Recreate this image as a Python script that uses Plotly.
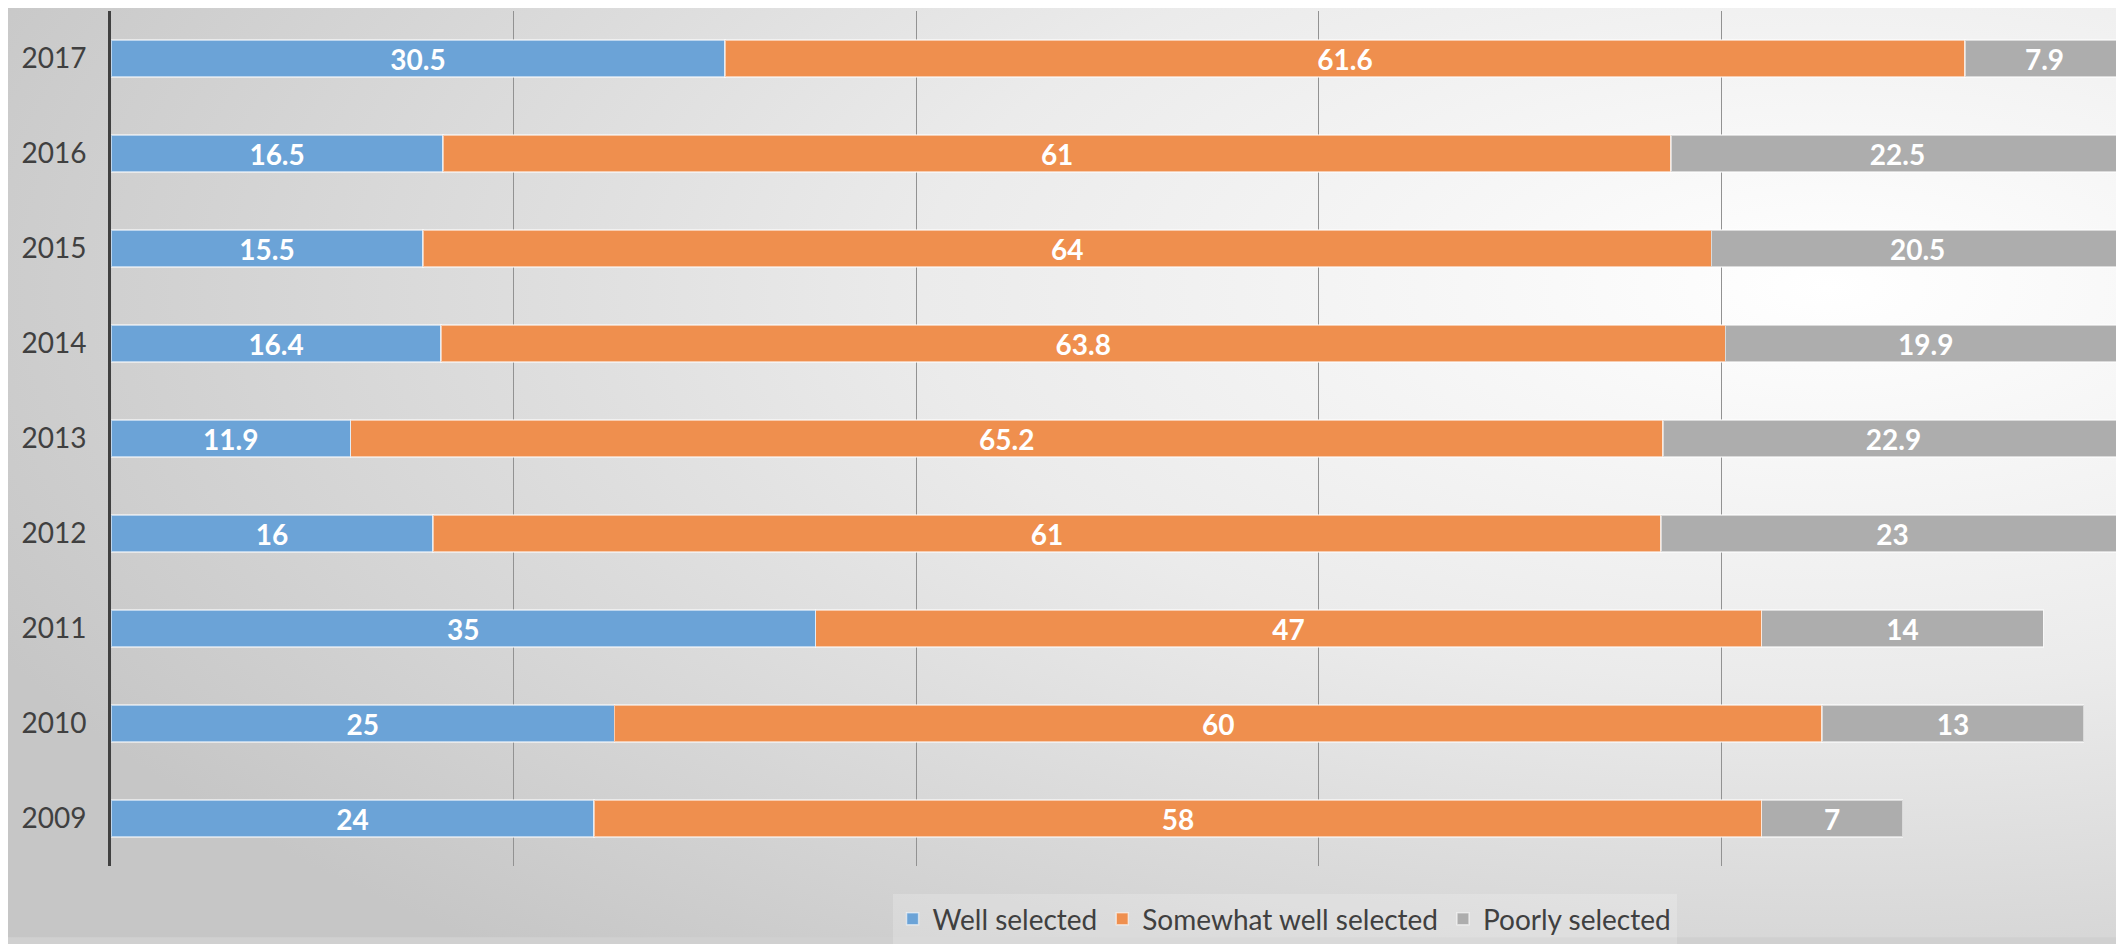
import base64
import plotly.graph_objects as go

years = ['2009', '2010', '2011', '2012', '2013', '2014', '2015', '2016', '2017']
well = [24, 25, 35, 16, 11.9, 16.4, 15.5, 16.5, 30.5]
somewhat = [58, 60, 47, 61, 65.2, 63.8, 64, 61, 61.6]
poorly = [7, 13, 14, 23, 22.9, 19.9, 20.5, 22.5, 7.9]

series = [
    ('Well selected', well, '#6ba3d7'),
    ('Somewhat well selected', somewhat, '#ef8f4e'),
    ('Poorly selected', poorly, '#adadad'),
]

# page body adds 8px, so the figure is a bit smaller than the window
W, H = 2116, 936
L, R, T, B = 103, 0, 3, 72

# soft radial background like the office chart style
svg = (
    "<svg xmlns='http://www.w3.org/2000/svg' width='2116' height='936' preserveAspectRatio='none'>"
    "<defs><radialGradient id='g' cx='0.86' cy='0.3' r='0.95' fx='0.86' fy='0.3'>"
    "<stop offset='0' stop-color='#ffffff'/><stop offset='0.45' stop-color='#ebebeb'/>"
    "<stop offset='1' stop-color='#c6c6c6'/></radialGradient></defs>"
    "<rect width='2116' height='936' fill='url(#g)'/></svg>"
)
bg_src = 'data:image/svg+xml;base64,' + base64.b64encode(svg.encode()).decode()

fig = go.Figure()
for name, vals, color in series:
    fig.add_trace(go.Bar(
        y=years, x=vals, name=name, orientation='h',
        marker=dict(color=color, line=dict(color='rgba(255,255,255,0.55)', width=1.5)),
        text=vals, texttemplate='%{text}', textposition='inside',
        insidetextanchor='middle', textangle=0, constraintext='none',
        textfont=dict(family='Lato', size=28, color='white', weight='bold'),
        width=0.39,
    ))

pw, ph = W - L - R, H - T - B
fig.add_layout_image(
    source=bg_src, xref='paper', yref='paper',
    x=-L / pw, y=1 + T / ph, sizex=W / pw, sizey=H / ph,
    xanchor='left', yanchor='top', sizing='stretch', layer='below',
)

fig.update_layout(
    width=W, height=H, barmode='stack',
    margin=dict(l=L, r=R, t=T, b=B),
    paper_bgcolor='#d0d0d0', plot_bgcolor='rgba(0,0,0,0)',
    showlegend=True,
    legend=dict(
        orientation='h', x=0.583, xanchor='center', y=-0.033, yanchor='top',
        font=dict(family='Lato', size=28, color='#404040'),
        bgcolor='rgba(255,255,255,0.2)', itemwidth=30,
        traceorder='normal',
    ),
    xaxis=dict(
        range=[0, 100], dtick=20, showticklabels=False, showgrid=True,
        gridcolor='#929292', gridwidth=1, zeroline=False, showline=False, ticks='',
    ),
    yaxis=dict(
        showline=True, linecolor='#404040', linewidth=3, ticks='',
        tickfont=dict(family='Lato', size=28, color='#404040'),
        showgrid=False, ticklabelstandoff=16,
    ),
    uniformtext=dict(mode=False),
)

fig.write_html('out.html')
